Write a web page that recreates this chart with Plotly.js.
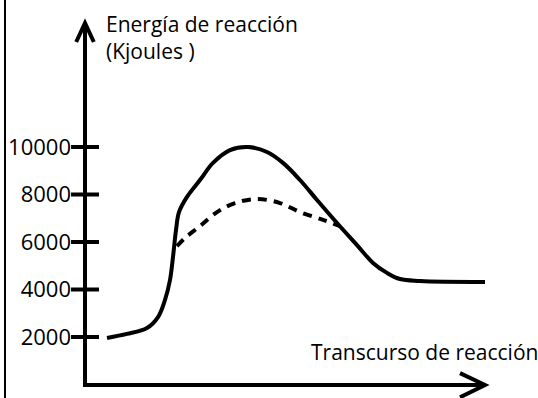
<!DOCTYPE html>
<html>
<head>
<meta charset="utf-8">
<script src="https://cdn.plot.ly/plotly-3.0.1.min.js"></script>
<style>
  html, body { margin: 0; padding: 0; background: #fff; }
  #chart { width: 538px; height: 398px; }
</style>
</head>
<body>
<div id="chart"></div>
<script>
// reaction progress (0 = origin, 100 = arrow tip) and energy in kJ
const solidX = [5.5, 10.5, 15.5, 18.25, 20, 21.25, 22, 22.75, 23.5, 25.5, 28.75, 32, 36.25, 40.75, 45.5, 49.5, 53.75, 58, 63, 68, 72, 75.5, 78.75, 83.75, 100];
const solidY = [1960, 2130, 2380, 2840, 3560, 4400, 5370, 6500, 7260, 7900, 8610, 9330, 9870, 10000, 9790, 9330, 8610, 7770, 6800, 5870, 5120, 4700, 4440, 4360, 4320];

const dashX = [23, 25, 28.75, 33, 37.5, 43, 48.75, 53.75, 59.5, 63.75];
const dashY = [5830, 6170, 6670, 7260, 7640, 7810, 7640, 7260, 6930, 6670];

const tickVals = [2000, 4000, 6000, 8000, 10000];
const tickText = ['2000', '4000', '6000', '8000', '10000'];

const yTitle = 'Energía de reacción<br>(Kjoules )';
const xTitle = 'Transcurso de reacción';

const W = 538, H = 398;
const xRange = [-21.25, 113.25];
const yRange = [-568, 16189];
const yTop = 15220;

const font = {family: '"Open Sans", sans-serif', size: 21, color: '#000'};
const tickFont = {family: '"Open Sans", sans-serif', size: 22, color: '#000'};

const traces = [
  {
    x: solidX, y: solidY, type: 'scatter', mode: 'lines',
    line: {color: '#000', width: 4, shape: 'spline', smoothing: 1},
    hoverinfo: 'skip'
  },
  {
    x: dashX, y: dashY, type: 'scatter', mode: 'lines',
    line: {color: '#000', width: 4, shape: 'spline', dash: '9px,7px'},
    hoverinfo: 'skip'
  },
  {
    // tick crosses on the hand drawn axis
    x: tickVals.map(() => 0), y: tickVals, type: 'scatter', mode: 'markers',
    marker: {symbol: 'line-ew', size: 20, line: {color: '#000', width: 4}},
    hoverinfo: 'skip'
  }
];

const black = {color: '#000', width: 4};
const shapes = [
  // frame line on the left
  {type: 'line', xref: 'paper', yref: 'paper', x0: 5/W, x1: 5/W, y0: 0, y1: 1, line: {color: '#000', width: 2}},
  // y axis with arrow
  {type: 'line', x0: 0, x1: 0, y0: -20, y1: yTop, line: black},
  {type: 'path', path: `M -2.2,14420 L 0,${yTop} L 2.2,14420`, line: black},
  // x axis with arrow
  {type: 'line', x0: -0.5, x1: 100, y0: -20, y1: -20, line: black},
  {type: 'path', path: 'M 93.75,480 L 100,-20 L 93.75,-540', line: black}
];

const layout = {
  width: W, height: H,
  margin: {l: 0, r: 0, t: 0, b: 0},
  paper_bgcolor: '#fff', plot_bgcolor: '#fff',
  showlegend: false,
  font: font,
  xaxis: {range: xRange, visible: false, fixedrange: true},
  yaxis: {
    range: yRange, anchor: 'free', position: 85 / W,
    tickvals: tickVals, ticktext: tickText, ticks: '',
    ticklabelstandoff: 14,
    showgrid: false, zeroline: false, showline: false,
    tickfont: tickFont, fixedrange: true
  },
  shapes: shapes,
  annotations: [
    {text: yTitle, xref: 'paper', yref: 'paper', x: 104 / W, y: 1 - 8 / H,
     xanchor: 'left', yanchor: 'top', align: 'left', showarrow: false, font: font},
    {text: xTitle, xref: 'paper', yref: 'paper', x: 309 / W, y: 1 - 368 / H,
     xanchor: 'left', yanchor: 'bottom', align: 'left', showarrow: false, font: font}
  ]
};

Plotly.newPlot('chart', traces, layout, {displayModeBar: false, staticPlot: true});
</script>
</body>
</html>
